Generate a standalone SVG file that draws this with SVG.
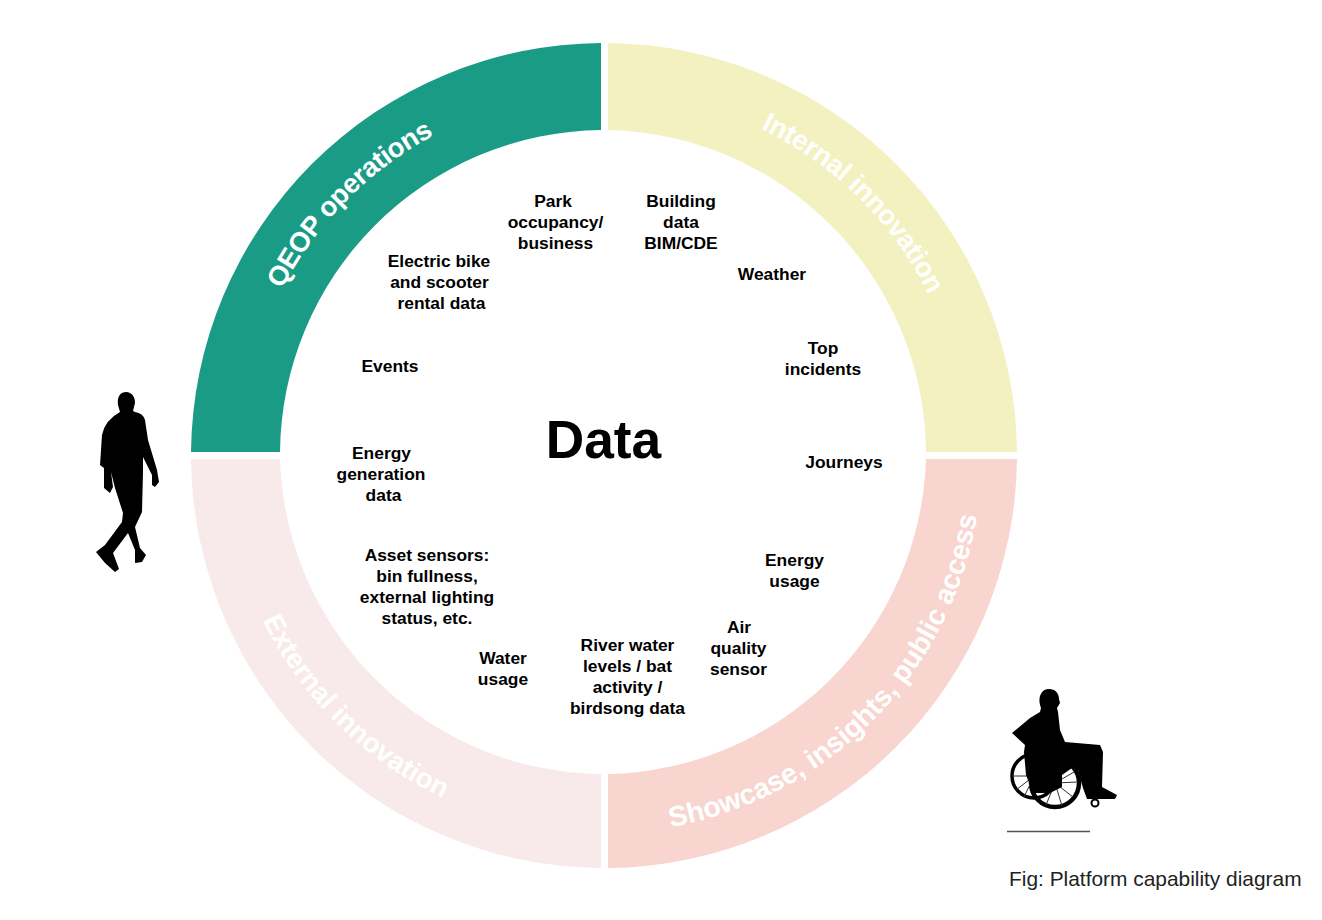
<svg xmlns="http://www.w3.org/2000/svg" width="1322" height="920" viewBox="0 0 1322 920">
<style>
.l{font:bold 17.4px "Liberation Sans",Arial,sans-serif;fill:#000;text-anchor:middle}
.b{font:bold 27.500px "Liberation Sans",Arial,sans-serif;fill:#fff}
</style>
<defs>
<path id="p1" d="M 242 455 A 362 362 0 0 1 604 93"/>
<path id="p2" d="M 604 93 A 362 362 0 0 1 966 455"/>
<path id="p3" d="M 604 833 A 378 378 0 0 0 982 455"/>
<path id="p4" d="M 225 455 A 379 379 0 0 0 604 834"/>
</defs>
<rect width="1322" height="920" fill="#fff"/>
<g id="seg-qeop"><path d="M191 452 A413 413 0 0 1 601 43 V130 A325 325 0 0 0 280 452 Z" fill="#1a9b85"/>
<text class="b" style="font-size:27.5px;letter-spacing:-0.55px"><textPath href="#p1" startOffset="172">QEOP operations</textPath></text></g>
<g id="seg-internal"><path d="M608 43 A413 413 0 0 1 1017 452 H926 A325 325 0 0 0 608 130 Z" fill="#f4f1c1"/>
<text class="b" style="letter-spacing:-0.3px"><textPath href="#p2" startOffset="162">Internal innovation</textPath></text></g>
<g id="seg-showcase"><path d="M1017 459 A413 413 0 0 1 608 868 V774 A325 325 0 0 0 926 459 Z" fill="#f8d5cf"/>
<text class="b" style="font-size:28.4px"><textPath href="#p3" startOffset="67">Showcase, insights, public access</textPath></text></g>
<g id="seg-external"><path d="M601 868 A413 413 0 0 1 191 459 H280 A325 325 0 0 0 601 774 Z" fill="#f8eaea"/>
<text class="b" style="letter-spacing:0.15px"><textPath href="#p4" startOffset="171">External innovation</textPath></text></g>
<g id="center"><text x="603.500" y="457.500" text-anchor="middle" style="font:bold 53.3px 'Liberation Sans',Arial,sans-serif" fill="#000">Data</text></g>
<g id="n-park"><text class="l"><tspan x="553" y="207">Park</tspan><tspan x="555.500" y="228">occupancy/</tspan><tspan x="555.500" y="249">business</tspan></text></g>
<g id="n-building"><text class="l"><tspan x="681" y="207">Building</tspan><tspan x="681" y="228">data</tspan><tspan x="681" y="249">BIM/CDE</tspan></text></g>
<g id="n-weather"><text class="l" x="772" y="280">Weather</text></g>
<g id="n-top"><text class="l"><tspan x="823" y="354">Top</tspan><tspan x="823" y="375">incidents</tspan></text></g>
<g id="n-journeys"><text class="l" x="844" y="468">Journeys</text></g>
<g id="n-usage"><text class="l"><tspan x="794.500" y="566">Energy</tspan><tspan x="794.500" y="587">usage</tspan></text></g>
<g id="n-air"><text class="l"><tspan x="739" y="633">Air</tspan><tspan x="738.500" y="654">quality</tspan><tspan x="738.500" y="675">sensor</tspan></text></g>
<g id="n-river"><text class="l"><tspan x="627.500" y="651">River water</tspan><tspan x="627.500" y="672">levels / bat</tspan><tspan x="627.500" y="693">activity /</tspan><tspan x="627.500" y="714">birdsong data</tspan></text></g>
<g id="n-water"><text class="l"><tspan x="503" y="664">Water</tspan><tspan x="503" y="685">usage</tspan></text></g>
<g id="n-asset"><text class="l"><tspan x="427" y="561">Asset sensors:</tspan><tspan x="427" y="582">bin fullness,</tspan><tspan x="427" y="603">external lighting</tspan><tspan x="427" y="624">status, etc.</tspan></text></g>
<g id="n-energy"><text class="l"><tspan x="381.500" y="459">Energy</tspan><tspan x="381" y="480">generation</tspan><tspan x="383.500" y="501">data</tspan></text></g>
<g id="n-events"><text class="l" x="390" y="372">Events</text></g>
<g id="n-bike"><text class="l"><tspan x="439" y="267">Electric bike</tspan><tspan x="439.500" y="288">and scooter</tspan><tspan x="441.500" y="309">rental data</tspan></text></g>
<g id="walker"><path d="M126 392 C132 392 135 397 135 403 L133 411 L135 412 Q143 413 145 420 L148 440 L157 470 L159 482 L155 487 L152 485 L152 475 L143 457 L143 472 L142 512 L135 527 L140 548 L146 555 L142 562 L135 563 L135 550 L128 533 L113 553 L119 569 L115 572 L105 563 L96 552 L105 545 L122 522 L123 513 L115 488 L111 472 L113 487 L110 493 L104 488 L104 468 L100 465 L102 435 Q105 420 120 412 L118 405 C117 397 120 392 126 392 Z" fill="#000"/></g>
<g id="wheelchair" fill="none" stroke="#000">
<circle cx="1034" cy="776" r="22" stroke-width="3.500"/>
<circle cx="1055" cy="783" r="24" stroke-width="4.500"/>
<path d="M1055 783 L1074 772 M1055 783 L1078 782 M1055 783 L1073 797 M1055 783 L1062 806 M1055 783 L1046 805 M1034 776 L1016 790 M1034 776 L1024 797 M1034 776 L1012 776" stroke="#333" stroke-width="1"/>
<path d="M1049 689 C1055 689 1059 693 1059 699 L1060 703 L1057 708 L1058 712 L1060 730 L1065 742 L1100 745 L1103 752 L1102 787 L1117 795 L1115 799 L1087 799 L1083 788 L1078 770 L1072 768 L1062 775 L1062 787 L1050 793 L1033 793 L1026 775 L1024 752 L1025 745 L1012 733 L1030 718 L1040 712 L1041 708 C1037 698 1041 689 1049 689 Z" fill="#000" stroke="none"/>
<circle cx="1095" cy="803" r="3.500" stroke-width="2"/>
</g>
<line x1="1007" y1="831.500" x2="1090" y2="831.500" stroke="#555" stroke-width="1.500"/>
<text x="1009" y="886" style="font:20.9px 'Liberation Sans',Arial,sans-serif" fill="#222">Fig: Platform capability diagram</text>
</svg>
